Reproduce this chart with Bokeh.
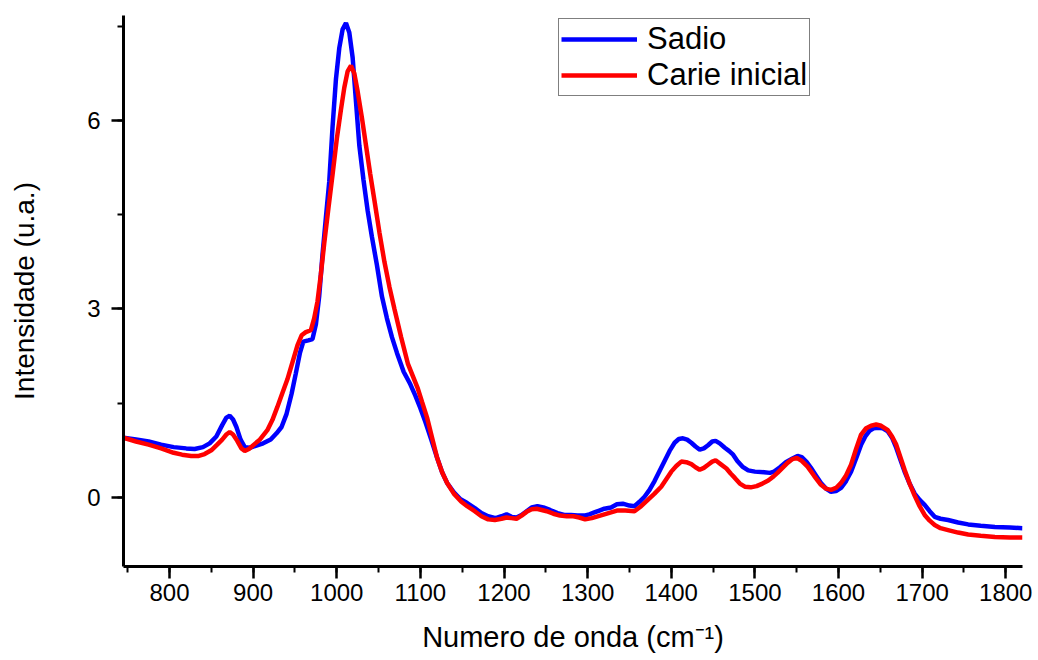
from bokeh.plotting import figure
from bokeh.models import Range1d, SingleIntervalTicker, Legend, LegendItem
from bokeh.embed import file_html
from bokeh.resources import INLINE

# ---- data ----
sadio_wn = [745, 760, 775, 790, 805, 820, 830, 840, 848, 856, 863, 868, 872, 876, 880, 885, 890, 896, 903, 912,
            921, 928, 934, 940, 946, 951, 956, 960, 966, 971, 975, 979, 983, 987, 991, 995, 999, 1003, 1007, 1011,
            1015, 1019, 1023, 1027, 1032, 1037, 1042, 1048, 1054, 1060, 1066, 1072, 1080, 1088, 1094, 1100, 1106,
            1113, 1120, 1126, 1132, 1140, 1148, 1156, 1165, 1173, 1181, 1190, 1197, 1203, 1209, 1215, 1221, 1227,
            1233, 1240, 1247, 1255, 1264, 1272, 1280, 1288, 1296, 1302, 1308, 1314, 1320, 1328, 1335, 1342, 1350,
            1356, 1362, 1368, 1374, 1380, 1386, 1392, 1398, 1404, 1409, 1414, 1419, 1424, 1429, 1434, 1439, 1444,
            1449, 1453, 1458, 1464, 1469, 1474, 1479, 1485, 1492, 1500, 1511, 1518, 1523, 1530, 1537, 1545, 1551,
            1556, 1562, 1567, 1573, 1579, 1585, 1591, 1597, 1603, 1609, 1615, 1621, 1627, 1632, 1637, 1642, 1647,
            1653, 1659, 1664, 1669, 1674, 1679, 1685, 1691, 1697, 1703, 1709, 1715, 1722, 1731, 1743, 1755, 1770,
            1787, 1805, 1820]
sadio_int = [0.95, 0.92, 0.89, 0.84, 0.80, 0.78, 0.77, 0.80, 0.86, 0.97, 1.15, 1.27, 1.30, 1.24, 1.12, 0.92, 0.80,
             0.79, 0.82, 0.86, 0.92, 1.02, 1.12, 1.33, 1.65, 1.97, 2.30, 2.48, 2.50, 2.52, 2.75, 3.20, 3.87, 4.45,
             5.02, 5.90, 6.65, 7.15, 7.45, 7.55, 7.40, 7.00, 6.30, 5.60, 5.05, 4.56, 4.15, 3.70, 3.20, 2.85, 2.55,
             2.30, 2.00, 1.80, 1.62, 1.42, 1.20, 0.92, 0.63, 0.40, 0.23, 0.08, -0.03, -0.09, -0.17, -0.25, -0.30,
             -0.33, -0.30, -0.27, -0.31, -0.32, -0.28, -0.22, -0.16, -0.14, -0.16, -0.20, -0.25, -0.28, -0.28,
             -0.29, -0.29, -0.27, -0.24, -0.21, -0.18, -0.16, -0.11, -0.10, -0.13, -0.14, -0.07, 0.01, 0.12, 0.26,
             0.42, 0.58, 0.74, 0.87, 0.93, 0.94, 0.92, 0.87, 0.81, 0.76, 0.78, 0.83, 0.89, 0.90, 0.86, 0.79, 0.74,
             0.68, 0.58, 0.49, 0.43, 0.41, 0.40, 0.39, 0.41, 0.48, 0.56, 0.62, 0.66, 0.64, 0.56, 0.47, 0.35, 0.23,
             0.14, 0.09, 0.10, 0.15, 0.26, 0.41, 0.62, 0.84, 0.97, 1.06, 1.10, 1.11, 1.10, 1.05, 0.95, 0.79, 0.60,
             0.41, 0.22, 0.06, -0.04, -0.12, -0.22, -0.31, -0.34, -0.36, -0.40, -0.43, -0.45, -0.47, -0.48, -0.49]

carie_wn = [745, 760, 775, 790, 805, 815, 826, 835, 842, 850, 857, 863, 868, 872, 876, 881, 886, 890, 895, 901,
            908, 917, 923, 929, 935, 941, 947, 953, 958, 963, 969, 973, 977, 981, 985, 990, 995, 1000, 1005, 1009,
            1013, 1017, 1021, 1025, 1030, 1035, 1040, 1045, 1051, 1057, 1063, 1069, 1077, 1085, 1091, 1097, 1102,
            1108, 1114, 1120, 1126, 1132, 1140, 1149, 1156, 1165, 1173, 1181, 1189, 1197, 1203, 1209, 1215, 1221,
            1227, 1233, 1239, 1245, 1251, 1259, 1267, 1275, 1283, 1290, 1297, 1305, 1315, 1325, 1335, 1345, 1356,
            1364, 1372, 1380, 1388, 1394, 1400, 1406, 1412, 1418, 1424, 1429, 1434, 1439, 1444, 1449, 1453, 1459,
            1466, 1471, 1476, 1482, 1488, 1495, 1502, 1509, 1516, 1522, 1527, 1533, 1539, 1545, 1550, 1556, 1563,
            1571, 1579, 1585, 1591, 1597, 1603, 1609, 1615, 1621, 1627, 1633, 1639, 1645, 1651, 1659, 1664, 1669,
            1674, 1679, 1685, 1691, 1697, 1703, 1709, 1715, 1722, 1731, 1743, 1755, 1770, 1787, 1805, 1820]
carie_int = [0.95, 0.89, 0.84, 0.78, 0.71, 0.68, 0.66, 0.66, 0.69, 0.75, 0.84, 0.92, 1.00, 1.04, 1.00, 0.90, 0.78,
             0.74, 0.77, 0.84, 0.92, 1.07, 1.23, 1.44, 1.66, 1.88, 2.15, 2.42, 2.58, 2.63, 2.66, 2.85, 3.12, 3.55,
             4.04, 4.60, 5.14, 5.70, 6.17, 6.52, 6.78, 6.87, 6.75, 6.46, 6.05, 5.60, 5.15, 4.73, 4.22, 3.75, 3.35,
             3.00, 2.55, 2.13, 1.93, 1.73, 1.52, 1.27, 0.95, 0.63, 0.40, 0.23, 0.06, -0.07, -0.14, -0.22, -0.30,
             -0.35, -0.36, -0.34, -0.32, -0.33, -0.34, -0.29, -0.23, -0.19, -0.18, -0.20, -0.22, -0.26, -0.29,
             -0.30, -0.30, -0.32, -0.35, -0.33, -0.29, -0.25, -0.21, -0.21, -0.22, -0.14, -0.04, 0.06, 0.17, 0.29,
             0.41, 0.50, 0.57, 0.56, 0.53, 0.48, 0.44, 0.47, 0.52, 0.57, 0.59, 0.53, 0.46, 0.38, 0.31, 0.22, 0.17,
             0.16, 0.18, 0.22, 0.27, 0.33, 0.39, 0.47, 0.55, 0.61, 0.63, 0.58, 0.49, 0.34, 0.20, 0.14, 0.12, 0.15,
             0.23, 0.35, 0.52, 0.77, 1.00, 1.10, 1.14, 1.16, 1.14, 1.07, 0.97, 0.84, 0.64, 0.44, 0.22, 0.03, -0.14,
             -0.28, -0.37, -0.44, -0.49, -0.52, -0.56, -0.59, -0.61, -0.63, -0.64, -0.64]

series_names = ["Sadio", "Carie inicial"]
series_colors = ["#0000ff", "#ff0000"]
x_label = "Numero de onda (cm\u207b\u00b9)"
y_label = "Intensidade (u.a.)"

FONT = "Liberation Sans"

p = figure(width=1038, height=660, output_backend="svg", toolbar_location=None,
           x_range=Range1d(745, 1820), y_range=Range1d(-1.1, 7.67),
           min_border_left=123, min_border_right=16, min_border_top=15, min_border_bottom=94)
p.outline_line_color = None
p.xgrid.visible = False
p.ygrid.visible = False
p.background_fill_color = "white"
p.border_fill_color = "white"

r1 = p.line(sadio_wn, sadio_int, line_color=series_colors[0], line_width=4.5)
r2 = p.line(carie_wn, carie_int, line_color=series_colors[1], line_width=4.5)

p.xaxis.ticker = SingleIntervalTicker(interval=100, num_minor_ticks=2)
p.yaxis.ticker = SingleIntervalTicker(interval=3, num_minor_ticks=2)

for ax in (p.xaxis[0], p.yaxis[0]):
    ax.axis_line_width = 3
    ax.axis_line_color = "black"
    ax.major_tick_line_width = 2.5
    ax.minor_tick_line_width = 2
    ax.major_tick_line_color = "black"
    ax.minor_tick_line_color = "black"
    ax.major_tick_out = 12
    ax.major_tick_in = 0
    ax.minor_tick_out = 6
    ax.minor_tick_in = 0
    ax.major_label_text_font = FONT
    ax.major_label_text_font_size = "24px"
    ax.major_label_text_color = "black"
    ax.axis_label_text_font = FONT
    ax.axis_label_text_font_size = "28px"
    ax.axis_label_text_font_style = "normal"
    ax.axis_label_text_color = "black"

p.xaxis.axis_label = x_label
p.yaxis.axis_label = y_label
p.xaxis.major_label_standoff = 5
p.xaxis.axis_label_standoff = 17
p.xaxis.axis_label_text_font_size = "29px"
p.yaxis.major_label_standoff = 11
p.yaxis.axis_label_standoff = 44

legend = Legend(items=[LegendItem(label=series_names[0], renderers=[r1]),
                       LegendItem(label=series_names[1], renderers=[r2])],
                location=(435, 470), orientation="vertical")
legend.label_text_font = FONT
legend.label_text_font_size = "31px"
legend.label_text_color = "black"
legend.glyph_width = 76
legend.glyph_height = 34
legend.label_height = 34
legend.label_standoff = 10
legend.padding = 2
legend.spacing = 0
legend.margin = 0
legend.border_line_color = "black"
legend.border_line_width = 1.5
legend.background_fill_alpha = 1.0
p.add_layout(legend)

open("out.html", "w").write(file_html(p, INLINE))
